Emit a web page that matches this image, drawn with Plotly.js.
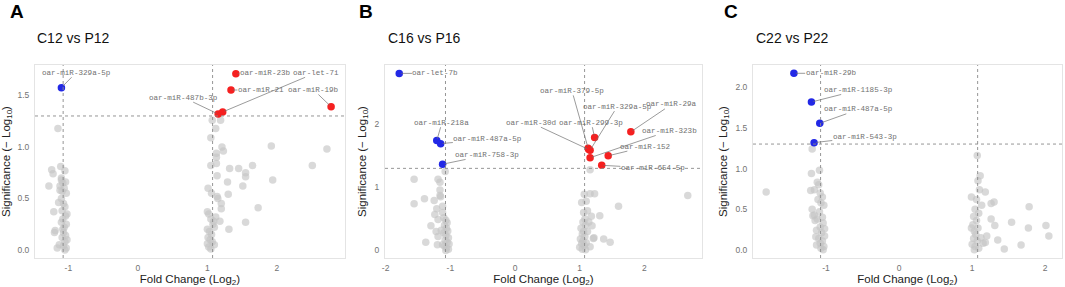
<!DOCTYPE html>
<html>
<head>
<meta charset="utf-8">
<script src="https://cdn.plot.ly/plotly-3.0.1.min.js"></script>
<style>html,body{margin:0;padding:0;background:#fff;}#chart{width:1065px;height:287px;}</style>
</head>
<body>
<div id="chart"></div>
<script>
// ---------- Panel A : C12 vs P12 ----------
var A_grayX = [-1.28,-1.24,-1.22,-1.11,-1.05,-1.15,-1.10,-1.08,-1.12,-1.06,-1.09,-1.03,-1.10,-1.14,-1.07,-1.05,-1.21,-1.09,-1.04,-1.08,-1.10,-1.03,-1.06,-1.20,-1.19,-1.07,-1.04,-1.09,-1.02,-1.05,-1.16,-1.13,-1.07,-1.03,-1.05,-1.10,-1.04,-1.12,-1.02,-1.08,
  1.07,1.19,1.12,1.05,1.21,1.92,2.72,1.13,1.23,2.51,1.32,1.45,1.55,1.55,1.65,1.29,1.94,1.14,1.51,1.30,1.20,1.20,1.73,1.55,1.31,1.18,1.14,1.13,1.13,1.05,1.01,1.00,
  1.02,1.05,1.08,1.00,1.03,1.06,1.01,1.04,1.00,1.07,1.02,1.05,1.10,1.09,1.12,1.06,1.15,1.10];
var A_grayY = [0.62,0.78,0.74,0.81,0.77,1.18,0.68,0.65,0.62,0.60,0.57,0.55,0.50,0.46,0.45,0.42,0.37,0.38,0.33,0.30,0.27,0.25,0.22,0.17,0.19,0.17,0.14,0.12,0.10,0.08,0.02,0.05,0.04,0.02,0.00,0.70,0.66,0.58,0.35,0.20,
  1.26,1.26,1.18,1.09,1.00,1.01,0.98,0.94,0.96,0.82,0.79,0.79,0.75,0.71,0.82,0.66,0.68,0.72,0.62,0.54,0.45,0.40,0.41,0.27,0.20,0.28,0.52,0.90,0.84,0.82,0.60,0.37,
  0.35,0.30,0.25,0.20,0.18,0.15,0.12,0.10,0.06,0.08,0.03,0.01,0.05,0.28,0.32,0.55,0.50,0.22];
var A_upNames = ["oar-miR-23b","oar-miR-21","oar-miR-487b-3p","oar-let-7i","oar-miR-19b"];
var A_upX     = [1.41, 1.34, 1.155, 1.22, 2.78];
var A_upY     = [1.712, 1.553, 1.32, 1.34, 1.391];
var A_upLabX  = [1.83, 1.77, 0.66, 2.56, 2.53];
var A_upLabY  = [1.72, 1.553, 1.479, 1.72, 1.553];
var A_downNames = ["oar-miR-329a-5p"];
var A_downX     = [-1.10];
var A_downY     = [1.576];
var A_downLabX  = [-0.89];
var A_downLabY  = [1.721];

// ---------- Panel B : C16 vs P16 ----------
var B_grayX = [-1.56,-1.56,-1.40,-1.38,-1.25,-1.19,-1.16,-1.16,-1.16,-1.21,-1.24,-1.30,-1.19,-1.19,-1.20,-1.08,-1.12,-1.10,-1.07,-1.05,-1.09,-1.06,-1.04,-1.10,-1.07,-1.03,-1.08,-1.05,-1.02,-1.09,-1.06,-1.03,-1.07,-1.12,-1.14,-1.22,-1.12,-1.15,
  1.16,1.07,1.16,1.23,1.03,1.12,1.18,1.31,1.60,2.67,1.37,1.47,1.21,1.16,1.19,1.10,1.06,1.08,1.05,1.09,1.02,1.06,1.04,1.08,1.01,1.05,1.03,1.07,1.00,1.04,1.09,1.12,1.14,1.22,1.10];
var B_grayY = [1.13,0.74,0.82,0.13,0.79,1.13,1.08,0.96,0.87,0.66,0.57,0.39,0.49,0.22,0.09,1.25,0.70,0.52,0.48,0.44,0.40,0.35,0.31,0.28,0.24,0.20,0.16,0.13,0.10,0.07,0.04,0.02,0.00,0.09,0.32,0.30,0.60,0.85,
  1.28,0.89,0.90,0.90,0.76,0.63,0.54,0.55,0.70,0.87,0.18,0.13,0.19,0.06,0.39,0.78,0.60,0.50,0.45,0.40,0.35,0.30,0.26,0.22,0.18,0.15,0.11,0.08,0.05,0.02,0.01,0.30,0.45,0.20,0.12];
var B_upNames = ["oar-miR-379-5p","oar-miR-30d","oar-miR-329a-5p","oar-miR-323b","oar-miR-29a","oar-miR-299-3p","oar-miR-152","oar-miR-654-5p"];
var B_upX     = [1.13, 1.14, 1.16, 1.16, 1.79, 1.23, 1.44, 1.34];
var B_upY     = [1.62, 1.60, 1.59, 1.47, 1.88, 1.79, 1.50, 1.35];
var B_upLabX  = [0.88, 0.25, 1.58, 2.38, 2.42, 1.18, 2.02, 2.13];
var B_upLabY  = [2.53, 2.025, 2.28, 1.894, 2.316, 2.025, 1.646, 1.304];
var B_downNames = ["oar-let-7b","oar-miR-218a","oar-miR-487a-5p","oar-miR-758-3p"];
var B_downX     = [-1.79, -1.21, -1.15, -1.12];
var B_downY     = [2.807, 1.741, 1.693, 1.367];
var B_downLabX  = [-1.23, -1.13, -0.42, -0.43];
var B_downLabY  = [2.807, 2.025, 1.762, 1.514];

// ---------- Panel C : C22 vs P22 ----------
var C_grayX = [-1.82,-1.19,-1.09,-1.20,-1.12,-1.16,-1.21,-1.19,-1.16,-1.15,-1.10,-1.08,-1.05,-1.11,-1.07,-1.03,-1.09,-1.05,-1.12,-1.04,-1.08,-1.13,-1.06,-1.02,-1.10,-1.05,-1.08,-1.13,-1.03,-1.07,-1.04,-1.14,-1.02,-1.18,
  1.07,1.11,1.10,1.18,0.99,1.26,1.30,1.78,1.26,1.31,1.54,1.77,2.01,2.05,1.67,1.44,1.35,1.20,1.18,1.08,1.06,1.04,1.09,1.02,1.06,1.01,1.08,1.03,0.99,1.05,1.02,1.07,1.00,1.04,1.09,1.03,1.12,1.15,1.13];
var C_grayY = [0.71,1.24,0.98,0.94,0.83,0.74,0.73,0.50,0.43,0.36,0.80,0.70,0.65,0.62,0.58,0.55,0.47,0.40,0.38,0.33,0.28,0.24,0.21,0.17,0.14,0.11,0.08,0.06,0.04,0.02,0.00,0.16,0.26,0.42,
  1.16,0.91,0.74,0.71,0.65,0.57,0.59,0.53,0.38,0.30,0.34,0.27,0.30,0.17,0.06,0.01,0.12,0.17,0.09,0.85,0.62,0.50,0.45,0.41,0.36,0.31,0.27,0.23,0.27,0.19,0.14,0.11,0.07,0.04,0.02,0.00,0.15,0.08,0.55];
var C_upNames = [];
var C_upX = [], C_upY = [], C_upLabX = [], C_upLabY = [];
var C_downNames = ["oar-miR-29b","oar-miR-1185-3p","oar-miR-487a-5p","oar-miR-543-3p"];
var C_downX     = [-1.44, -1.20, -1.086, -1.164];
var C_downY     = [2.171, 1.818, 1.556, 1.318];
var C_downLabX  = [-0.93, -0.55, -0.55, -0.47];
var C_downLabY  = [2.171, 1.966, 1.728, 1.392];

var panelTitles = ["C12 vs P12","C16 vs P16","C22 vs P22"];
var panelLetters = ["A","B","C"];
var fcCut = 1.075;
var pCut = 1.301;

// ---------- layout geometry ----------
var W = 1065, H = 287;
var xDomains = [[35/W, 345/W],[385/W, 702/W],[753/W, 1062/W]];
var yDomain = [1-258/H, 1-65/H];
var xRanges = [[-1.48,2.98],[-2.01,2.89],[-2.0,2.23]];
var yRanges = [[-0.078,1.796],[-0.12,2.94],[-0.10,2.273]];
var xTicks = [[-1,0,1,2],[-2,-1,0,1,2],[-1,0,1,2]];
var yTicks = [[0,0.5,1,1.5],[0,1,2],[0,0.5,1,1.5,2]];
var yTickText = [["0.0","0.5","1.0","1.5"],["0","1","2"],["0.0","0.5","1.0","1.5","2.0"]];
var titleX = [35, 385.5, 754];
var letterX = [8, 357, 722];

var RED = "rgb(245,32,32)", BLUE = "rgb(34,40,230)", GRAY = "rgba(196,196,196,0.65)";
var SANS = "Liberation Sans, Arial, Helvetica, sans-serif";
var MONO = "Liberation Mono, Courier New, monospace";

var panels = [
  {gx:A_grayX, gy:A_grayY, un:A_upNames, ux:A_upX, uy:A_upY, ulx:A_upLabX, uly:A_upLabY, dn:A_downNames, dx:A_downX, dy:A_downY, dlx:A_downLabX, dly:A_downLabY},
  {gx:B_grayX, gy:B_grayY, un:B_upNames, ux:B_upX, uy:B_upY, ulx:B_upLabX, uly:B_upLabY, dn:B_downNames, dx:B_downX, dy:B_downY, dlx:B_downLabX, dly:B_downLabY},
  {gx:C_grayX, gy:C_grayY, un:C_upNames, ux:C_upX, uy:C_upY, ulx:C_upLabX, uly:C_upLabY, dn:C_downNames, dx:C_downX, dy:C_downY, dlx:C_downLabX, dly:C_downLabY}
];

var traces = [], annotations = [], shapes = [];
var layout = {
  width: W, height: H,
  margin: {l:0, r:0, t:0, b:0},
  paper_bgcolor: "#fff", plot_bgcolor: "#fff",
  showlegend: false,
  font: {family: SANS, color: "#333"}
};

panels.forEach(function(p, i) {
  var n = i === 0 ? "" : String(i + 1);
  var xa = "x" + n, ya = "y" + n;
  traces.push({type:"scatter", mode:"markers", x:p.gx, y:p.gy, xaxis:xa, yaxis:ya,
    marker:{color:GRAY, size:7.5, line:{width:0}}, hoverinfo:"skip"});
  traces.push({type:"scatter", mode:"markers", x:p.dx, y:p.dy, xaxis:xa, yaxis:ya,
    marker:{color:BLUE, size:7.5, line:{width:0}}});
  traces.push({type:"scatter", mode:"markers", x:p.ux, y:p.uy, xaxis:xa, yaxis:ya,
    marker:{color:RED, size:7.5, line:{width:0}}});

  layout["xaxis" + n] = {
    domain: xDomains[i], anchor: ya, range: xRanges[i],
    tickvals: xTicks[i], ticktext: xTicks[i].map(String),
    showgrid:false, zeroline:false, showline:true, mirror:true,
    linecolor:"#e4e4e4", linewidth:1, ticks:"", ticklabelstandoff: 2,
    tickfont:{family:SANS, size:8.5, color:"#727272"},
    title:{text:"Fold Change (Log<sub>2</sub>)", font:{family:SANS, size:11.5, color:"#222"}, standoff:3}
  };
  layout["yaxis" + n] = {
    domain: yDomain, anchor: xa, range: yRanges[i],
    tickvals: yTicks[i], ticktext: yTickText[i],
    showgrid:false, zeroline:false, showline:true, mirror:true,
    linecolor:"#e4e4e4", linewidth:1, ticks:"", ticklabelstandoff: 3,
    tickfont:{family:SANS, size:8.5, color:"#727272"},
    title:{text:"Significance (\u2212 Log<sub>10</sub>)", font:{family:SANS, size:11.5, color:"#222"}, standoff:5}
  };

  // threshold lines
  [-fcCut, fcCut].forEach(function(v) {
    shapes.push({type:"line", xref:xa, yref:ya + " domain", x0:v, x1:v, y0:0, y1:1,
      line:{color:"#8a8a8a", width:0.9, dash:"dot"}});
  });
  shapes.push({type:"line", xref:xa + " domain", yref:ya, x0:0, x1:1, y0:pCut, y1:pCut,
    line:{color:"#8a8a8a", width:0.9, dash:"dot"}});

  // point labels with leader lines
  function addLabels(names, xs, ys, lxs, lys) {
    names.forEach(function(name, k) {
      annotations.push({xref:xa, yref:ya, axref:xa, ayref:ya,
        x:xs[k], y:ys[k], ax:lxs[k], ay:lys[k], text:name,
        showarrow:true, arrowhead:0, arrowwidth:0.7, arrowcolor:"#707070",
        standoff:2, borderpad:0,
        font:{family:MONO, size:7.6, color:"#717171"}});
    });
  }
  addLabels(p.dn, p.dx, p.dy, p.dlx, p.dly);
  addLabels(p.un, p.ux, p.uy, p.ulx, p.uly);

  // panel title and letter
  annotations.push({xref:"paper", yref:"paper", x:titleX[i]/W, y:1-38/H, xanchor:"left", yanchor:"middle",
    text:panelTitles[i], showarrow:false, font:{family:SANS, size:14, color:"#111"}});
  annotations.push({xref:"paper", yref:"paper", x:letterX[i]/W, y:1-12/H, xanchor:"left", yanchor:"middle",
    text:"<b>" + panelLetters[i] + "</b>", showarrow:false, font:{family:SANS, size:19, color:"#000"}});
});

layout.annotations = annotations;
layout.shapes = shapes;

Plotly.newPlot("chart", traces, layout, {staticPlot:true, displayModeBar:false});
</script>
</body>
</html>
